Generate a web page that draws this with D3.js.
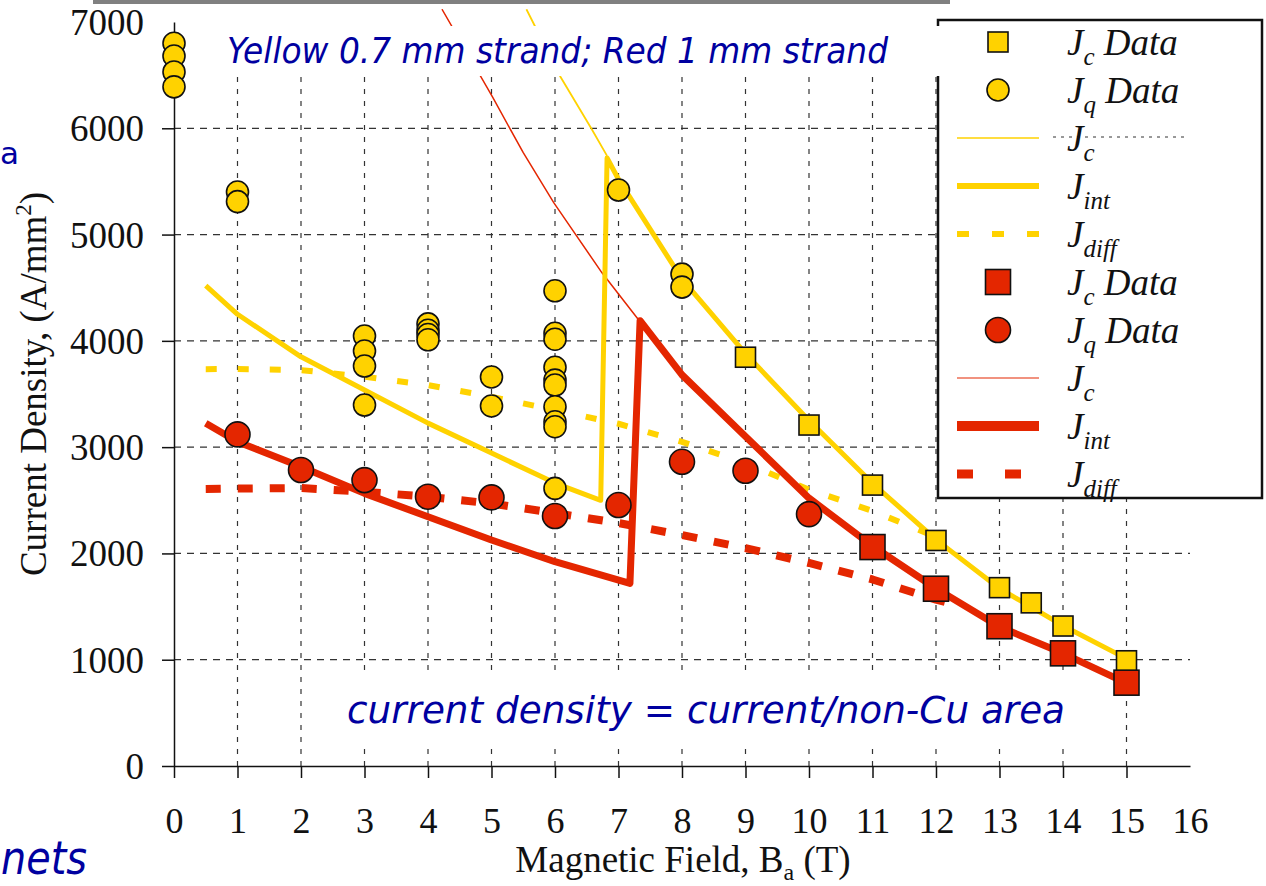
<!DOCTYPE html>
<html><head><meta charset="utf-8">
<script src="https://cdn.jsdelivr.net/npm/d3@7"></script>
<style>html,body{margin:0;padding:0;background:#fff;overflow:hidden}</style>
</head><body>
<svg id="chart" width="1266" height="886"></svg>
<script>
// ---------- DATA ----------
const xTickValues = [0,1,2,3,4,5,6,7,8,9,10,11,12,13,14,15,16];
const yTickValues = [0,1000,2000,3000,4000,5000,6000,7000];

// Yellow 0.7 mm strand
const yellowJcData = [[9,3846],[10,3208],[11,2643],[12,2122],[13,1678],[13.5,1535],[14,1317],[15,990]];
const yellowJqData = [[0,6800],[0,6680],[0,6530],[0,6390],[1,5400],[1,5310],
  [3,4045],[3,3904],[3,3763],[3,3396],[4,4160],[4,4100],[4,4060],[4,4010],
  [5,3660],[5,3387],[6,4471],[6,4071],[6,4015],[6,3751],[6,3631],[6,3584],[6,3380],[6,3239],[6,3192],[6,2612],
  [7,5419],[8,4628],[8,4506]];
const yellowJc = [[5.55,7120],[6.09,6480],[6.57,6000],[6.82,5740]];
const yellowJint = [[0.5,4520],[1,4250],[2,3850],[3,3537],[4,3226],[5,2944],[6,2662],[6.72,2500],[6.82,5720],[7,5520],[8,4580],[9,3880],[10,3250],[11,2660],[12,2130],[13,1670],[14,1320],[15,1010]];
const yellowJdiff = [[0.5,3734],[1,3735],[2,3725],[3,3662],[4,3584],[5,3474],[6,3349],[7,3220],[8,3050],[9,2850],[10,2600],[11,2400],[11.9,2180]];

// Red 1 mm strand
const redJcData = [[11,2060],[12,1668],[13,1315],[14,1060],[15,784]];
const redJqData = [[1,3120],[2,2785],[3,2690],[4,2533],[5,2527],[6,2352],[7,2455],[8,2862],[9,2778],[10,2370]];
const redJc = [[4.22,7120],[5.02,6290],[5.5,5770],[5.98,5300],[6.74,4640],[7.34,4180]];
const redJint = [[0.5,3224],[1,3050],[2,2816],[3,2565],[4,2345],[5,2126],[6,1922],[7.18,1718],[7.34,4190],[8,3680],[9,3100],[10,2520],[11,2070],[12,1670],[13,1310],[14,1060],[15,780]];
const redJdiff = [[0.5,2606],[1,2610],[2,2615],[3,2580],[4,2533],[5,2470],[6,2380],[7,2286],[8,2173],[9,2050],[10,1910],[11,1755],[12,1565],[12.2,1535]];

const legendSubs = ['c','q','c','int','diff','c','q','c','int','diff'];
const legendTails = [' Data',' Data','','','',' Data',' Data','','',''];

// ---------- STYLE ----------
const YEL = '#FFD200', RED = '#E42600', BLUE = '#0000A0', INK = '#111';
const W = 1266, H = 886;
const svg = d3.select('#chart');
svg.append('rect').attr('width', W).attr('height', H).attr('fill', '#fff');

const x = d3.scaleLinear().domain([0, 16]).range([174, 1190]);
const y = d3.scaleLinear().domain([0, 7000]).range([766, 22]);

// gray bar at top
svg.append('rect').attr('x', 93).attr('y', 0).attr('width', 857).attr('height', 4).attr('fill', '#808080');

// gridlines
const gridH = svg.append('g');
gridH.selectAll('line').data(yTickValues.filter(v => v > 0 && v < 7000)).join('line')
  .attr('x1', x(0)).attr('x2', x(16)).attr('y1', d => y(d)).attr('y2', d => y(d))
  .attr('stroke', '#333').attr('stroke-width', 1.2).attr('stroke-dasharray', '7,6');
const gridV = svg.append('g');
gridV.selectAll('line').data(xTickValues.filter(v => v > 0 && v < 16)).join('line')
  .attr('x1', d => x(d)).attr('x2', d => x(d)).attr('y1', y(0)).attr('y2', 24)
  .attr('stroke', '#333').attr('stroke-width', 1.2).attr('stroke-dasharray', '5,7');

// axes
const xAxis = d3.axisBottom(x).tickValues(xTickValues).tickSize(12).tickSizeOuter(0).tickFormat(d3.format('d'));
const gx = svg.append('g').attr('transform', 'translate(0,766)').call(xAxis);
gx.attr('font-family', 'Liberation Serif, Times New Roman, serif').attr('font-size', 36);
gx.select('.domain').attr('stroke', INK).attr('stroke-width', 1.5);
gx.selectAll('.tick line').attr('stroke', INK).attr('stroke-width', 1.5);
gx.selectAll('.tick').filter(d => d === 16).select('line').remove();
gx.selectAll('.tick text').attr('y', 67).attr('dy', 0).attr('fill', INK);

const yAxis = d3.axisLeft(y).tickValues(yTickValues).tickSize(12).tickSizeOuter(0).tickFormat(d3.format('d'));
const gy = svg.append('g').attr('transform', 'translate(174,0)').call(yAxis);
gy.attr('font-family', 'Liberation Serif, Times New Roman, serif').attr('font-size', 37);
gy.select('.domain').attr('stroke', INK).attr('stroke-width', 1.5);
gy.selectAll('.tick line').attr('stroke', INK).attr('stroke-width', 1.5);
gy.selectAll('.tick').filter(d => d === 7000).select('line').remove();
gy.selectAll('.tick text').attr('x', -30).attr('dy', 0).attr('y', 12.5).attr('fill', INK);

// axis titles
const yl = svg.append('text').attr('transform', 'translate(46,384) rotate(-90)')
  .attr('text-anchor', 'middle').attr('font-family', 'Liberation Serif, serif').attr('font-size', 37).attr('fill', INK);
yl.append('tspan').text('Current Density, (A/mm');
yl.append('tspan').attr('font-size', 23).attr('dy', -15).text('2');
yl.append('tspan').attr('dy', 15).text(')');

const xl = svg.append('text').attr('x', 683).attr('y', 872).attr('text-anchor', 'middle')
  .attr('font-family', 'Liberation Serif, serif').attr('font-size', 37).attr('fill', INK);
xl.append('tspan').text('Magnetic Field, B');
xl.append('tspan').attr('font-size', 24).attr('dy', 8).text('a');
xl.append('tspan').attr('dy', -8).text(' (T)');

// lines
svg.append('clipPath').attr('id', 'plotclip').append('rect')
  .attr('x', 174).attr('y', 9).attr('width', 1016).attr('height', 757);
const line = d3.line().x(d => x(d[0])).y(d => y(d[1]));
const lines = svg.append('g').attr('clip-path', 'url(#plotclip)').attr('fill', 'none').attr('stroke-linejoin', 'round');
lines.append('path').datum(yellowJdiff).attr('d', line).attr('stroke', YEL).attr('stroke-width', 6).attr('stroke-dasharray', '11,21');
lines.append('path').datum(redJdiff).attr('d', line).attr('stroke', RED).attr('stroke-width', 8).attr('stroke-dasharray', '15,17');
lines.append('path').datum(yellowJc).attr('d', line).attr('stroke', YEL).attr('stroke-width', 1.8);
lines.append('path').datum(redJc).attr('d', line).attr('stroke', RED).attr('stroke-width', 1.5);
lines.append('path').datum(yellowJint).attr('d', line).attr('stroke', YEL).attr('stroke-width', 5);
lines.append('path').datum(redJint).attr('d', line).attr('stroke', RED).attr('stroke-width', 7);

// markers
const mk = svg.append('g').attr('stroke', INK).attr('stroke-width', 1.6);
mk.selectAll('circle.yq').data(yellowJqData).join('circle').attr('class', 'yq')
  .attr('cx', d => x(d[0])).attr('cy', d => y(d[1])).attr('r', 11).attr('fill', YEL);
mk.selectAll('circle.rq').data(redJqData).join('circle').attr('class', 'rq')
  .attr('cx', d => x(d[0])).attr('cy', d => y(d[1])).attr('r', 12.5).attr('fill', RED);
mk.selectAll('rect.yc').data(yellowJcData).join('rect').attr('class', 'yc')
  .attr('x', d => x(d[0]) - 10).attr('y', d => y(d[1]) - 10).attr('width', 20).attr('height', 20).attr('fill', YEL);
mk.selectAll('rect.rc').data(redJcData).join('rect').attr('class', 'rc')
  .attr('x', d => x(d[0]) - 12.5).attr('y', d => y(d[1]) - 12.5).attr('width', 25).attr('height', 25).attr('fill', RED);

// bottom annotation
svg.append('rect').attr('x', 340).attr('y', 674).attr('width', 730).attr('height', 68).attr('fill', '#fff');
svg.append('text').attr('x', 347).attr('y', 723).attr('font-family', 'DejaVu Sans Condensed, DejaVu Sans, sans-serif')
  .attr('font-style', 'italic').attr('font-size', 38).attr('fill', BLUE)
  .attr('textLength', 718).attr('lengthAdjust', 'spacingAndGlyphs')
  .text('current density = current/non-Cu area');

// legend
const lg = svg.append('g');
lg.append('rect').attr('x', 938).attr('y', 20).attr('width', 324).attr('height', 478)
  .attr('fill', '#fff').attr('stroke', INK).attr('stroke-width', 2.5);
lg.append('line').attr('x1', 1053).attr('x2', 1187).attr('y1', 137).attr('y2', 137)
  .attr('stroke', '#333').attr('stroke-width', 1).attr('stroke-dasharray', '3,5');
const rowY = i => 42 + i * 48;
legendSubs.forEach((sub, i) => {
  const cy = rowY(i);
  const col = i < 5 ? YEL : RED;
  const k = i % 5;
  if (k === 0) {
    const s = i < 5 ? 20 : 25;
    lg.append('rect').attr('x', 998 - s / 2).attr('y', cy - s / 2).attr('width', s).attr('height', s)
      .attr('fill', col).attr('stroke', INK).attr('stroke-width', 1.6);
  } else if (k === 1) {
    lg.append('circle').attr('cx', 998).attr('cy', cy).attr('r', i < 5 ? 11 : 12.5)
      .attr('fill', col).attr('stroke', INK).attr('stroke-width', 1.6);
  } else {
    const sw = k === 2 ? (i < 5 ? 1.6 : 1.2) : k === 3 ? (i < 5 ? 6 : 10) : (i < 5 ? 6 : 9);
    const l = lg.append('line').attr('x1', 957).attr('x2', 1039).attr('y1', cy).attr('y2', cy)
      .attr('stroke', col).attr('stroke-width', sw);
    if (k === 4) l.attr('stroke-dasharray', i < 5 ? '12,23' : '16,32');
  }
  const t = lg.append('text').attr('x', 1067).attr('y', cy + 13)
    .attr('font-family', 'Liberation Serif, serif').attr('font-style', 'italic')
    .attr('font-size', 37).attr('fill', INK);
  t.append('tspan').text('J');
  t.append('tspan').attr('font-size', 25).attr('dy', 10).text(sub);
  if (legendTails[i]) t.append('tspan').attr('dy', -10).text(legendTails[i]);
});

// title box (covers grid, lines and the legend's left edge)
svg.append('rect').attr('x', 215).attr('y', 26).attr('width', 726).attr('height', 50).attr('fill', '#fff');
svg.append('text').attr('x', 227).attr('y', 63).attr('font-family', 'DejaVu Sans Condensed, DejaVu Sans, sans-serif')
  .attr('font-style', 'italic').attr('font-size', 36).attr('fill', BLUE)
  .attr('textLength', 661).attr('lengthAdjust', 'spacingAndGlyphs')
  .text('Yellow 0.7 mm strand; Red 1 mm strand');

// slide fragments at the edges
svg.append('text').attr('x', 0).attr('y', 164)
  .attr('font-family', 'DejaVu Sans, sans-serif').attr('font-size', 31).attr('fill', BLUE).text('a');
svg.append('text').attr('x', 1).attr('y', 874)
  .attr('font-family', 'DejaVu Sans Condensed, DejaVu Sans, sans-serif').attr('font-style', 'italic')
  .attr('font-size', 46).attr('fill', BLUE)
  .attr('textLength', 86).attr('lengthAdjust', 'spacingAndGlyphs').text('nets');
</script>
</body></html>
